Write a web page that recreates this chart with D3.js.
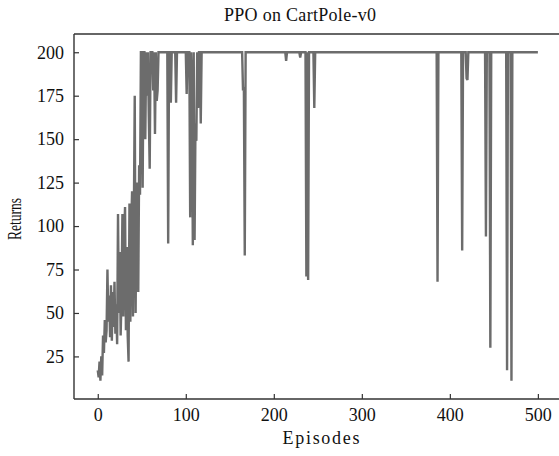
<!DOCTYPE html>
<html><head><meta charset="utf-8">
<script src="https://cdn.jsdelivr.net/npm/d3@7"></script>
<style>
html,body{margin:0;padding:0;background:#fff;}
svg{display:block;}
</style></head>
<body>
<svg id="chart" width="559" height="456"></svg>
<script>
const titleText = "PPO on CartPole-v0";
const xLabel = "Episodes";
const yLabel = "Returns";
const xTicks = [0, 100, 200, 300, 400, 500];
const yTicks = [25, 50, 75, 100, 125, 150, 175, 200];

const episodes = [
  0,1,2,3,4,5,6,7,8,9,
  10,11,12,13,14,15,16,17,18,19,
  20,21,22,23,24,25,26,27,28,29,
  30,31,32,33,34,35,36,37,38,39,
  40,41,42,43,44,45,46,47,48,49,
  50,51,52,53,54,55,56,57,58,59,
  60,61,62,63,64,65,66,67,68,69,
  70,71,72,73,74,75,76,77,78,79,
  80,81,82,83,84,85,86,87,88,89,
  90,91,92,93,94,95,96,97,98,99,
  100,101,102,103,104,105,106,107,108,109,
  110,111,112,113,114,115,116,117,118,
  164,165,166,167,168,
  213,214,215,
  229,230,231,
  236,237,238,239,240,
  245,246,247,
  385,386,387,
  413,414,415,
  418,419,420,421,
  440,441,442,
  445,446,447,
  464,465,466,
  469,470,471,
  500
];
const returns = [
  17,13,22,11,25,14,37,27,46,33,
  40,75,45,60,36,66,34,62,42,68,
  38,55,32,107,50,85,37,60,107,48,
  95,111,40,88,37,22,113,45,100,120,
  48,105,175,50,115,125,62,135,118,200,
  200,122,200,200,150,200,175,200,163,133,
  200,200,200,178,200,153,200,172,178,200,
  200,200,200,200,200,200,200,200,200,200,
  90,200,200,171,200,200,200,200,200,171,
  200,200,200,200,200,200,200,200,200,200,
  200,176,200,200,200,105,200,178,89,200,
  92,159,149,200,168,200,200,159,200,
  200,178,180,83,200,
  200,195,200,
  200,197,200,
  200,71,200,69,200,
  200,168,200,
  200,68,200,
  200,86,200,
  200,185,184,200,
  200,94,200,
  200,30,200,
  200,17,200,
  200,11,200,
  200
];

const svg = d3.select("#chart");
const mLeft = 74, mRight = 559, mTop = 34, mBottom = 399;

const x = d3.scaleLinear().domain([-27, 524]).range([mLeft, mRight]);
const y = d3.scaleLinear().domain([0.5, 210.5]).range([mBottom, mTop]);

const data = episodes.map((e, i) => ({e, r: returns[i]}));

const fontNum = "'Liberation Serif', 'DejaVu Serif', serif";

// line
svg.append("path")
  .datum(data)
  .attr("fill", "none")
  .attr("stroke", "#6c6c6c")
  .attr("stroke-width", 2.4)
  .attr("stroke-linejoin", "miter")
  .attr("d", d3.line().x(d => x(d.e)).y(d => y(d.r)));

// axes
const xAxis = d3.axisBottom(x).tickValues(xTicks).tickSizeInner(-5).tickSizeOuter(0).tickPadding(10);
const yAxis = d3.axisLeft(y).tickValues(yTicks).tickSizeInner(-5).tickSizeOuter(0).tickPadding(10);

const gx = svg.append("g").attr("transform", `translate(0,${mBottom})`).call(xAxis);
const gy = svg.append("g").attr("transform", `translate(${mLeft},0)`).call(yAxis);

[gx, gy].forEach(g => {
  g.select(".domain").remove();
  g.selectAll(".tick line").attr("stroke", "#333").attr("stroke-width", 1.2);
  g.selectAll(".tick text").attr("fill", "#111").style("font-family", fontNum).style("font-size", "18px");
});
gx.selectAll(".tick text").attr("dy", "0.71em").attr("y", 9);

// frame lines (left, bottom, top)
svg.append("line").attr("x1", mLeft).attr("x2", mLeft).attr("y1", mTop).attr("y2", mBottom)
  .attr("stroke", "#333").attr("stroke-width", 1.4);
svg.append("line").attr("x1", mLeft).attr("x2", mRight).attr("y1", mBottom).attr("y2", mBottom)
  .attr("stroke", "#333").attr("stroke-width", 1.4);
svg.append("line").attr("x1", mLeft).attr("x2", mRight).attr("y1", mTop).attr("y2", mTop)
  .attr("stroke", "#333").attr("stroke-width", 1.4);

// title
svg.append("text").attr("x", 300).attr("y", 21).attr("text-anchor", "middle")
  .attr("textLength", 152).attr("lengthAdjust", "spacing")
  .style("font-family", fontNum).style("font-size", "18px").attr("fill", "#111")
  .text(titleText);

// x label
svg.append("text").attr("x", 321).attr("y", 444).attr("text-anchor", "middle")
  .attr("textLength", 77).attr("lengthAdjust", "spacing")
  .style("font-family", fontNum).style("font-size", "18px").attr("fill", "#111")
  .text(xLabel);

// y label
svg.append("text").attr("transform", "translate(21,219) rotate(-90)").attr("text-anchor", "middle")
  .attr("textLength", 42).attr("lengthAdjust", "spacingAndGlyphs")
  .style("font-family", fontNum).style("font-size", "18px").attr("fill", "#111")
  .text(yLabel);
</script>
</body></html>
